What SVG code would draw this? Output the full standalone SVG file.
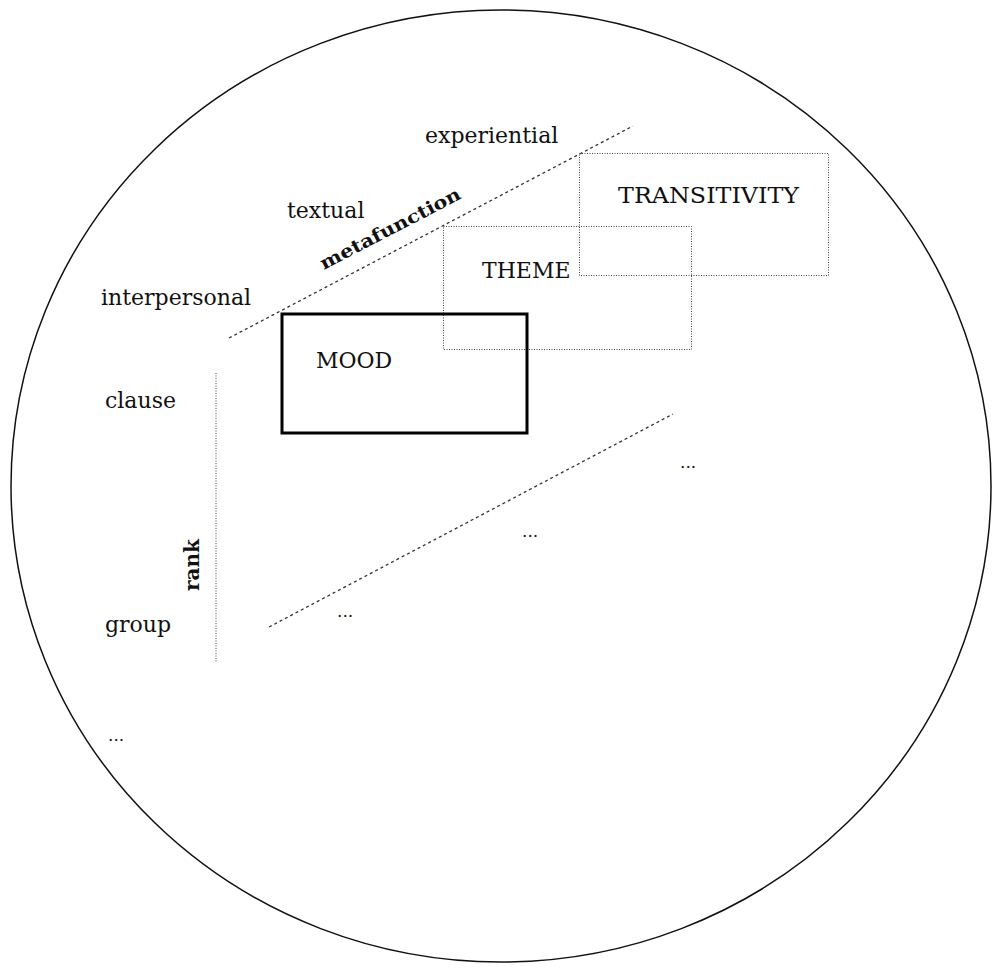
<svg xmlns="http://www.w3.org/2000/svg" width="993" height="969" viewBox="0 0 993 969">
<style>
text{font-family:"DejaVu Serif","Liberation Serif",serif;font-size:22px;fill:#111}
.b{font-weight:bold}
.e{font-size:17px}
.dash{stroke:#333;stroke-width:1.3;stroke-dasharray:3 3;fill:none}
.dot{stroke:#444;stroke-width:1;stroke-dasharray:1 1.5;fill:none}
</style>
<rect width="993" height="969" fill="#fff"/>
<ellipse id="circle" cx="501" cy="486" rx="490" ry="476" fill="none" stroke="#111" stroke-width="1.5"/>
<g id="connectors">
<line class="dash" x1="229" y1="338" x2="633" y2="126"/>
<line class="dash" x1="269" y1="627" x2="673" y2="414"/>
<line class="dot" x1="216" y1="373" x2="216" y2="663"/>
</g>
<g id="transitivity"><rect class="dot" x="579.5" y="153.5" width="249" height="122"/><text x="618" y="203" textLength="181" lengthAdjust="spacingAndGlyphs">TRANSITIVITY</text></g>
<g id="theme"><rect class="dot" x="443.5" y="226.5" width="248" height="123"/><text x="482" y="278">THEME</text></g>
<g id="mood"><rect x="282" y="314" width="245" height="119" fill="none" stroke="#000" stroke-width="3"/><text x="316" y="368">MOOD</text></g>
<g id="labels">
<text x="425" y="143">experiential</text>
<text x="287" y="218">textual</text>
<text x="101" y="305">interpersonal</text>
<text class="b" style="font-size:18px" transform="translate(393,234) rotate(-27.4)" text-anchor="middle" textLength="156" lengthAdjust="spacingAndGlyphs">metafunction</text>
<text x="105" y="408">clause</text>
<text x="105" y="632">group</text>
<text class="b" style="font-size:20px" transform="translate(199,565) rotate(-90)" text-anchor="middle">rank</text>
<text class="e" x="680" y="468">...</text>
<text class="e" x="522" y="537">...</text>
<text class="e" x="337" y="617">...</text>
<text class="e" x="108" y="741">...</text>
</g>
</svg>
